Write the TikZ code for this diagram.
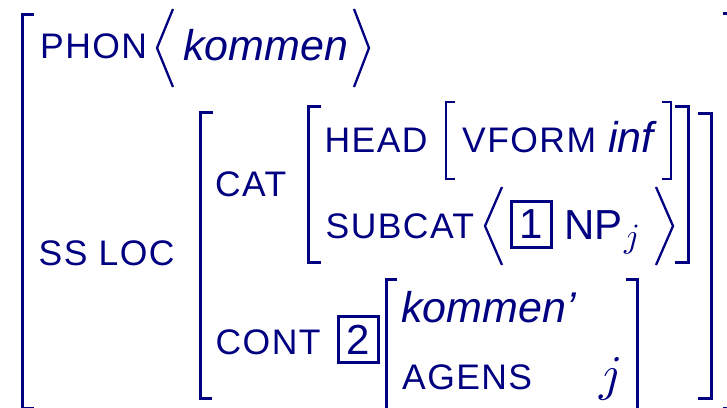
\documentclass[tikz,border=0pt]{standalone}
\usepackage{fontspec}
\setmainfont{Liberation Sans}
\newfontfamily\attrfont[LetterSpace=4]{Liberation Sans}
\DeclareFontFamily{OML}{cmm}{\skewchar\font'177}
\DeclareFontShape{OML}{cmm}{m}{it}{<->cmmi10}{}
\definecolor{avm}{RGB}{0,0,128}
\begin{document}
\begin{tikzpicture}[x=1pt,y=-1pt,color=avm,
  attr/.style={inner sep=0pt, anchor=base west, font=\attrfont\fontsize{35.5}{42}\selectfont},
  val/.style={inner sep=0pt, anchor=base west, font=\fontsize{43}{50}\selectfont\itshape},
  plain/.style={inner sep=0pt, anchor=base west, font=\fontsize{42}{50}\selectfont},
  brk/.style={line width=3pt},
  thinbrk/.style={line width=2pt},
  ang/.style={line width=2.3pt, line join=miter},
  tagbox/.style={draw, line width=3pt, minimum width=40pt, minimum height=46pt, inner sep=0pt, font=\fontsize{42}{48}\selectfont}]
\useasboundingbox (0,0) rectangle (727,407);
\clip (0,0) rectangle (727,407);
% outer bracket
\draw[brk] (34,14) -- (22,14) -- (22,408) -- (34,408);
\draw[brk] (723,13) -- (729,13) -- (729,408) -- (723,408);
% PHON row
\node[attr] (phon) at (40,58) {PHON};
\draw[ang] (173,9) -- (157,48) -- (173,87);
\node[val] (kommen) at (183,60) {kommen};
\draw[ang] (354,9) -- (369,48) -- (354,87);
% SS LOC
\node[attr] (ssloc) at (38.5,265) {SS LOC};
\draw[brk] (213,112) -- (200,112) -- (200,398) -- (212,398);
\draw[brk] (698,113) -- (711,113) -- (711,398) -- (698,398);
% CAT
\node[attr] (cat) at (215,196) {CAT};
\draw[brk] (321,106) -- (308,106) -- (308,262) -- (321,262);
\draw[brk] (675,106) -- (688,106) -- (688,262) -- (675,262);
% HEAD
\node[attr] (head) at (324.5,152) {HEAD};
\draw[thinbrk] (455,102) -- (446,102) -- (446,179) -- (455,179);
\draw[thinbrk] (662,102) -- (671,102) -- (671,179) -- (662,179);
\node[attr] (vform) at (462,152) {VFORM};
\node[val] (inf) at (608,152) {inf};
% SUBCAT
\node[attr] (subcat) at (325.5,238) {SUBCAT};
\draw[ang] (502,187) -- (485,226) -- (502,265);
\node[tagbox] (tag1) at (531,224) {1};
\node[plain] (np) at (564,239) {NP};
\node[inner sep=0pt, anchor=base west, font=\fontsize{34}{38}\selectfont] (npj) at (624,247) {$j$};
\draw[ang] (656,187) -- (673,226) -- (656,265);
% CONT
\node[attr] (cont) at (215.5,354) {CONT};
\node[tagbox] (tag2) at (358,339.5) {2};
\draw[brk] (397,279) -- (386,279) -- (386,412);
\draw[brk] (626,279) -- (637,279) -- (637,412);
\node[val] (kommenp) at (401,322) {kommen’};
\node[attr] (agens) at (402,389) {AGENS};
\node[inner sep=0pt, anchor=base west, font=\fontsize{50}{56}\selectfont] (agj) at (599,390) {$j$};
\end{tikzpicture}
\end{document}
